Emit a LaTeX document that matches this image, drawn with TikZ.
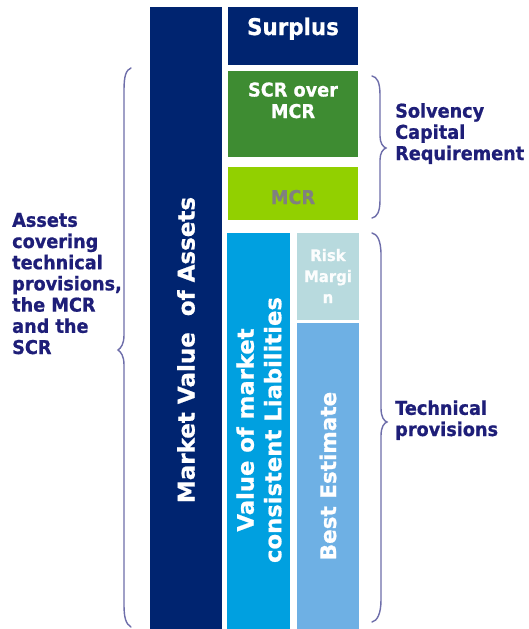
\documentclass[tikz,border=0pt]{standalone}
\usepackage{fontspec}
\newfontfamily\lbl{DejaVu Sans}[FakeStretch=0.93,BoldFeatures={FakeStretch=0.93,FakeBold=0.8}]
\newfontfamily\rot{DejaVu Sans}[BoldFeatures={FakeBold=0.8}]
\definecolor{navybar}{RGB}{0,36,112}
\definecolor{scrgreen}{RGB}{62,140,50}
\definecolor{mcrlime}{RGB}{146,208,0}
\definecolor{mcrtext}{RGB}{128,128,128}
\definecolor{liabblue}{RGB}{0,160,224}
\definecolor{riskteal}{RGB}{184,218,222}
\definecolor{bestblue}{RGB}{110,176,228}
\definecolor{labelnavy}{RGB}{30,30,120}
\definecolor{bracecol}{RGB}{110,110,170}
\begin{document}
\begin{tikzpicture}[x=1pt,y=-1pt,
  box/.style={rectangle,draw=none,inner sep=0pt,outer sep=0pt},
  boxtext/.style={inner sep=0pt,align=center,text=white},
  sidelabel/.style={inner sep=0pt,align=left,text=labelnavy,anchor=base west,
     font=\lbl\bfseries\fontsize{19}{21.2}\selectfont},
  bracestyle/.style={draw=bracecol,line width=1.4pt,line cap=round}]
\useasboundingbox[fill=white] (0,0) rectangle (528,629);
% boxes
\node[box,fill=navybar,minimum width=72pt,minimum height=622pt] (mva) at (186,318) {};
\node[box,fill=navybar,minimum width=130pt,minimum height=58pt] (surplus) at (293,36) {};
\node[box,fill=scrgreen,minimum width=130pt,minimum height=86pt] (scr) at (293,114) {};
\node[box,fill=mcrlime,minimum width=130pt,minimum height=53pt] (mcr) at (293,193.5) {};
\node[box,fill=liabblue,minimum width=63pt,minimum height=396pt] (liab) at (258.5,431) {};
\node[box,fill=riskteal,minimum width=62pt,minimum height=87pt] (risk) at (328,276.5) {};
\node[box,fill=bestblue,minimum width=62pt,minimum height=306pt] (best) at (328,476) {};
% box texts
\node[boxtext,anchor=base,font=\lbl\bfseries\fontsize{23}{25}\selectfont] (surplustxt) at (293,35) {Surplus};
\node[boxtext,anchor=base,font=\lbl\bfseries\fontsize{19}{21.5}\selectfont] (scrtxt) at (293,118) {SCR over\\MCR};
\node[boxtext,anchor=base,text=mcrtext,font=\lbl\bfseries\fontsize{19}{21.5}\selectfont] (mcrtxt) at (293,204) {MCR};
\node[boxtext,text=white!95!riskteal,anchor=base,font=\lbl\bfseries\fontsize{16}{21}\selectfont] (risktxt) at (328,303) {Risk\\Margi\\n};
\node[boxtext,rotate=90,font=\rot\bfseries\fontsize{23}{26}\selectfont] (mvatxt) at (186,350) {Market Value\ \ of Assets};
\node[boxtext,rotate=90,font=\rot\bfseries\fontsize{22.7}{27.5}\selectfont] (liabtxt) at (259,430) {Value of market\\consistent Liabilities};
\node[boxtext,rotate=90,font=\rot\bfseries\fontsize{21.5}{24}\selectfont] (besttxt) at (328,476) {Best Estimate};
% side labels
\node[sidelabel] (assetslbl) at (12,354) {Assets\\covering\\technical\\provisions,\\the MCR\\and the\\SCR};
\node[sidelabel] (scrlbl) at (395,160) {Solvency\\Capital\\Requirement};
\node[sidelabel] (tplbl) at (395,436) {Technical\\provisions};
% braces
\coordinate (lbtop) at (131,68);
\coordinate (lbtip) at (118,350);
\coordinate (lbbot) at (131,627);
\draw[bracestyle] (lbtop) .. controls (126,70) and (124,76) .. (124,90) -- (124,335)
  .. controls (124,344) and (121,348) .. (lbtip) .. controls (121,352) and (124,356) .. (124,365)
  -- (124,605) .. controls (124,618) and (126,624) .. (lbbot);
\coordinate (rb1top) at (372,76);
\coordinate (rb1tip) at (386,148);
\coordinate (rb1bot) at (372,218);
\draw[bracestyle] (rb1top) .. controls (377,77) and (380,82) .. (380,95) -- (380,136)
  .. controls (380,143) and (383,147) .. (rb1tip) .. controls (383,149) and (380,153) .. (380,160)
  -- (380,200) .. controls (380,212) and (377,217) .. (rb1bot);
\coordinate (rb2top) at (372,233);
\coordinate (rb2tip) at (387,422);
\coordinate (rb2bot) at (372,622);
\draw[bracestyle] (rb2top) .. controls (377,234) and (381,240) .. (381,255) -- (381,408)
  .. controls (381,417) and (384,421) .. (rb2tip) .. controls (384,423) and (381,427) .. (381,436)
  -- (381,600) .. controls (381,614) and (377,621) .. (rb2bot);
\end{tikzpicture}
\end{document}
